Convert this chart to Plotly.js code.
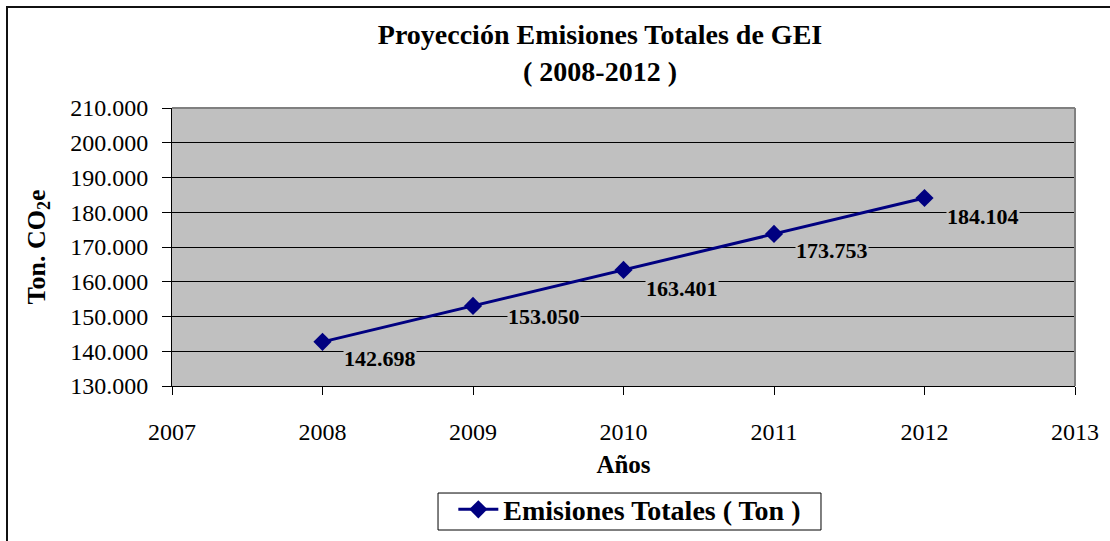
<!DOCTYPE html>
<html>
<head>
<meta charset="utf-8">
<script src="https://cdn.plot.ly/plotly-3.0.1.min.js"></script>
<style>
  html, body { margin: 0; padding: 0; background: #ffffff; }
  #frame {
    position: absolute; left: 6px; top: 6px; width: 1120px; height: 560px;
    border-top: 2px solid #111; border-left: 2px solid #111;
  }
  #chart { position: absolute; left: 0; top: 0; width: 1110px; height: 541px; }
</style>
</head>
<body>
<div id="frame"></div>
<div id="chart"></div>
<script>
// Projected total greenhouse-gas emissions, tonnes CO2e
const years = [2008, 2009, 2010, 2011, 2012];
const emissions = [142698, 153050, 163401, 173753, 184104];
const seriesName = 'Emisiones Totales ( Ton )';
const yTicks = [130000, 140000, 150000, 160000, 170000, 180000, 190000, 200000, 210000];
const xTicks = [2007, 2008, 2009, 2010, 2011, 2012, 2013];

const serif = 'Liberation Serif, Times New Roman, serif';
const navy = '#000080';

// thousands separated by a dot, as in the tick labels
const fmt = v => String(v).replace(/\B(?=(\d{3})+(?!\d))/g, '.');

// pixel nudges for the value labels (below-right of each marker)
const labelShiftX = [20, 34, 21, 21, 21];
const labelShiftY = [-17, -11, -19, -17, -19];

const trace = {
  x: years,
  y: emissions,
  name: seriesName,
  type: 'scatter',
  mode: 'lines+markers',
  line: { color: navy, width: 3 },
  marker: { symbol: 'diamond', size: 14, color: navy },
  showlegend: true
};

const labels = years.map((yr, i) => ({
  x: yr, y: emissions[i], xref: 'x', yref: 'y',
  text: fmt(emissions[i]),
  showarrow: false,
  xanchor: 'left', yanchor: 'middle',
  xshift: labelShiftX[i], yshift: labelShiftY[i],
  bgcolor: '#C0C0C0', borderpad: 0,
  font: { family: serif, size: 22, color: '#000', weight: 'bold' }
}));

const layout = {
  width: 1110, height: 541,
  margin: { l: 172, r: 35, t: 108, b: 155 },
  separators: ',.',
  paper_bgcolor: 'rgba(0,0,0,0)',
  plot_bgcolor: '#C0C0C0',
  font: { family: serif, color: '#000' },
  title: {
    text: '<b>Proyección Emisiones Totales de GEI<br>( 2008-2012 )</b>',
    font: { family: serif, size: 28, color: '#000' },
    x: 0.474, xanchor: 'center', xref: 'paper',
    y: 0.918, yanchor: 'top', yref: 'container',
    automargin: false
  },
  xaxis: {
    range: [2007, 2013],
    tickvals: xTicks,
    ticktext: xTicks.map(String),
    automargin: false,
    showgrid: false, zeroline: false,
    showline: true, linecolor: '#000', linewidth: 1,
    ticks: 'outside', ticklen: 8, tickcolor: '#000', tickwidth: 1,
    ticklabelstandoff: 16,
    tickfont: { family: serif, size: 24, color: '#000' },
    title: { text: '<b>Años</b>', font: { family: serif, size: 25, color: '#000' }, standoff: 11 }
  },
  yaxis: {
    range: [130000, 210000],
    tickvals: yTicks,
    tickformat: ',',
    automargin: false,
    showgrid: true, gridcolor: '#000', gridwidth: 1,
    zeroline: false,
    showline: true, linecolor: '#000', linewidth: 1,
    ticks: 'outside', ticklen: 9, tickcolor: '#000', tickwidth: 1,
    ticklabelstandoff: 9,
    tickfont: { family: serif, size: 24, color: '#000' },
    title: { text: '<b>Ton. CO<sub>2</sub>e</b>', font: { family: serif, size: 26, color: '#000' }, standoff: 17 }
  },
  legend: {
    orientation: 'h',
    x: 0.507, xanchor: 'center', xref: 'paper',
    y: 0.058, yanchor: 'middle', yref: 'container',
    bgcolor: 'rgba(0,0,0,0)', borderwidth: 0,
    font: { family: serif, size: 28, color: '#000', weight: 'bold' },
    itemwidth: 40
  },
  shapes: [
    // gray top and right edges of the plotting area
    { type: 'line', xref: 'paper', yref: 'paper', x0: 0, x1: 1, y0: 1, y1: 1,
      line: { color: '#808080', width: 2 }, layer: 'above' },
    { type: 'line', xref: 'paper', yref: 'paper', x0: 1, x1: 1, y0: 0, y1: 1,
      line: { color: '#808080', width: 2 }, layer: 'above' },
    // legend frame
    { type: 'rect', xref: 'paper', yref: 'paper',
      x0: 0.2946, x1: 0.7187, y0: -0.518, y1: -0.385,
      line: { color: '#000', width: 1 }, fillcolor: '#ffffff', layer: 'below' }
  ],
  annotations: labels
};

Plotly.newPlot('chart', [trace], layout, { displayModeBar: false, staticPlot: true });
</script>
</body>
</html>
